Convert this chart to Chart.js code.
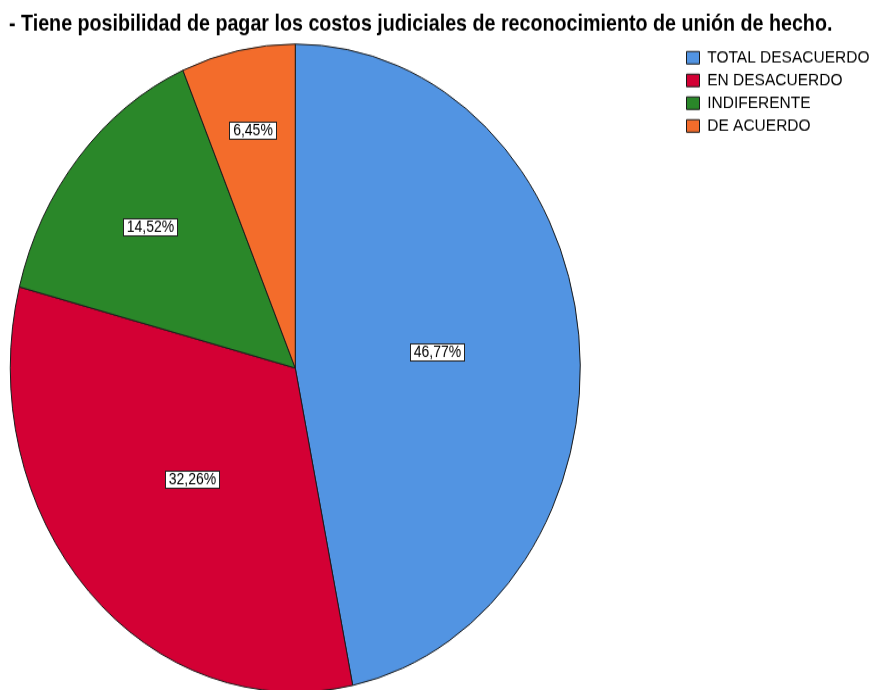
<!DOCTYPE html>
<html>
<head>
<meta charset="utf-8">
<script src="https://cdn.jsdelivr.net/npm/chart.js@4.4.0/dist/chart.umd.min.js"></script>
<style>
  html, body { margin: 0; padding: 0; background: #fff; overflow: hidden; width: 873px; height: 690px; }
  /* la imagen original esta estirada en vertical (pastel eliptico) */
  #wrap { width: 873px; height: 609px; transform: scale(1, 1.1368); transform-origin: 0 0; }
</style>
</head>
<body>
<div id="wrap"><canvas id="pie" width="873" height="609"></canvas></div>
<script>
// ---- datos ----
var categorias = ['TOTAL DESACUERDO', 'EN DESACUERDO', 'INDIFERENTE', 'DE ACUERDO'];
var porcentajes = [46.77, 32.26, 14.52, 6.45];
var titulo = '- Tiene posibilidad de pagar los costos judiciales de reconocimiento de unión de hecho.';

var COLORS = { blue: '#5294E2', red: '#D30034', green: '#2A8729', orange: '#F36C2B', edge: '#1A1A1A' };
var FONT = "'Liberation Sans', Arial, sans-serif";

// distancia de cada etiqueta al centro, como fraccion del radio
var LABEL_R = [0.5, 0.5, 0.67, 0.75];
var LEGEND_LEFT = 682, LEGEND_TOP = 38.5;

// ---- etiquetas con caja blanca sobre cada sector ----
var etiquetasPlugin = {
  id: 'etiquetas',
  afterDatasetsDraw: function(chart) {
    var ctx = chart.ctx;
    var meta = chart.getDatasetMeta(0);
    ctx.save();
    ctx.font = '14px ' + FONT;
    ctx.textAlign = 'center'; ctx.textBaseline = 'middle';
    meta.data.forEach(function(arc, i) {
      var p = arc.getProps(['x', 'y', 'startAngle', 'endAngle', 'outerRadius'], true);
      var mid = (p.startAngle + p.endAngle) / 2;
      var x = p.x + Math.cos(mid) * p.outerRadius * LABEL_R[i];
      var y = p.y + Math.sin(mid) * p.outerRadius * LABEL_R[i];
      var txt = porcentajes[i].toFixed(2).replace('.', ',') + '%';
      var w = Math.round(ctx.measureText(txt).width + 7), h = 15;
      var bx = Math.round(x - w / 2), by = Math.round(y - h / 2);
      ctx.fillStyle = '#fff'; ctx.fillRect(bx, by, w, h);
      ctx.strokeStyle = '#222'; ctx.lineWidth = 1; ctx.strokeRect(bx + 0.5, by + 0.5, w, h);
      ctx.fillStyle = '#000'; ctx.fillText(txt, bx + w / 2 + 0.5, by + h / 2 + 1);
    });
    ctx.restore();
  }
};

// ---- leyenda separada del pastel; titulo a todo el ancho ----
var leyendaPlugin = {
  id: 'leyendaPos',
  afterLayout: function(chart) {
    var lg = chart.legend;
    var dx = LEGEND_LEFT - lg.left, dy = LEGEND_TOP - lg.top;
    lg.left += dx; lg.right += dx;
    lg.top += dy; lg.bottom += dy;
    var tb = chart.titleBlock;
    tb.right = chart.width; tb.width = tb.right - tb.left;
  }
};

new Chart(document.getElementById('pie').getContext('2d'), {
  type: 'pie',
  data: {
    labels: categorias,
    datasets: [{
      data: porcentajes,
      backgroundColor: [COLORS.blue, COLORS.red, COLORS.green, COLORS.orange],
      borderColor: COLORS.edge,
      borderWidth: 1,
      radius: 285
    }]
  },
  options: {
    responsive: false, animation: false,
    layout: { padding: { left: 9, right: 94, top: 0, bottom: 0 } },
    plugins: {
      title: {
        display: true, text: titulo, align: 'start', color: '#000',
        font: { family: FONT, size: 19.7, weight: 'bold' },
        padding: { top: 9.7, bottom: 5.2 }
      },
      legend: {
        display: true, position: 'right', align: 'start',
        labels: { color: '#000', font: { family: FONT, size: 15.5 }, boxWidth: 13, boxHeight: 11, padding: 4.5 }
      },
      tooltip: { enabled: false }
    }
  },
  plugins: [etiquetasPlugin, leyendaPlugin]
});
</script>
</body>
</html>
